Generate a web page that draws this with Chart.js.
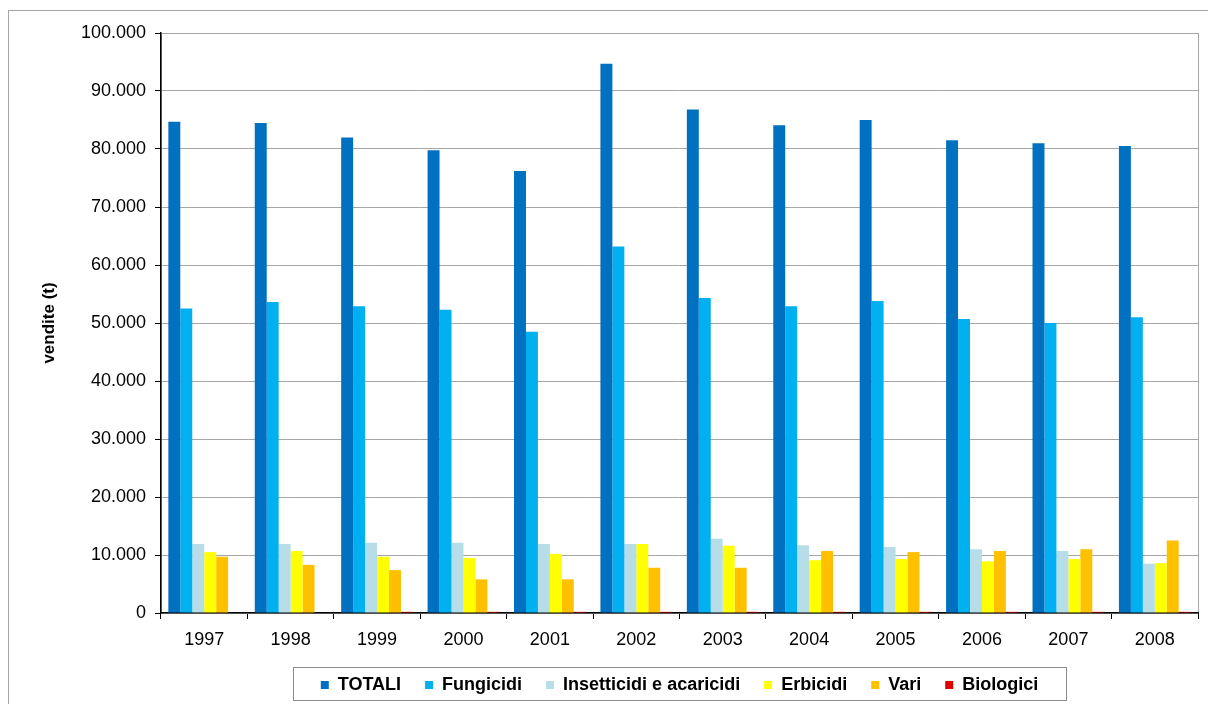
<!DOCTYPE html>
<html><head><meta charset="utf-8">
<script src="https://cdn.jsdelivr.net/npm/chart.js@4/dist/chart.umd.min.js"></script>
<style>html,body{margin:0;padding:0;background:#fff}#wrap{width:1208px;height:704px}</style>
</head><body><div id="wrap"><canvas id="c" width="1208" height="704"></canvas></div>
<script>
const years = ['1997','1998','1999','2000','2001','2002','2003','2004','2005','2006','2007','2008'];
const totali = [84700,84500,82000,79800,76200,94700,86800,84100,85000,81500,81000,80500];
const fungicidi = [52500,53600,52900,52300,48500,63200,54300,52900,53800,50700,50000,51000];
const insetticidi = [11900,11900,12100,12100,11900,11900,12800,11700,11400,11000,10700,8500];
const erbicidi = [10500,10700,9700,9500,10200,11900,11600,9100,9300,8900,9300,8600];
const vari = [9700,8300,7400,5800,5800,7800,7800,10700,10500,10700,11000,12500];
const biologici = [0,0,200,200,200,200,200,200,200,200,200,200];
const yTicks = [0,10000,20000,30000,40000,50000,60000,70000,80000,90000,100000];

const fmt = v => v === 0 ? '0' : (v/1000).toFixed(0) + '.000';
const F = "'Liberation Sans', Arial, sans-serif";

const frame = {
  id:'frame',
  afterLayout(ch){
    const l = ch.legend;
    if (l) { l.left = ch.chartArea.left; l.right = ch.chartArea.right; }
  },
  beforeDraw(ch){
    const c = ch.ctx; c.save();
    c.strokeStyle='#a6a6a6'; c.lineWidth=1;
    c.strokeRect(8.5,10.5,1210,700);
    const a = ch.chartArea;
    c.strokeRect(a.left+0.5,a.top+0.5,a.right-a.left,a.bottom-a.top);
    c.restore();
  },
  afterDraw(ch){
    const c = ch.ctx; c.save();
    c.strokeStyle='#8c8c8c'; c.lineWidth=1;
    c.strokeRect(293.5, 667.5, 773, 33);
    c.restore();
  }
};

new Chart(document.getElementById('c'), {
  type:'bar',
  data:{
    labels: years,
    datasets:[
      {label:'TOTALI', data:totali, backgroundColor:'#0070C0'},
      {label:'Fungicidi', data:fungicidi, backgroundColor:'#00B0F0'},
      {label:'Insetticidi e acaricidi', data:insetticidi, backgroundColor:'#B7DDE8'},
      {label:'Erbicidi', data:erbicidi, backgroundColor:'#FFFF00'},
      {label:'Vari', data:vari, backgroundColor:'#FFC000'},
      {label:'Biologici', data:biologici, backgroundColor:'#E00000'}
    ]
  },
  options:{
    responsive:false, animation:false,
    layout:{padding:{left:39,right:10,top:33,bottom:0}},
    datasets:{bar:{categoryPercentage:0.83, barPercentage:1.0}},
    plugins:{
      legend:{position:'bottom', labels:{boxWidth:8, boxHeight:8, color:'#000', padding:24, font:{family:F, size:18, weight:'bold'}}},
      tooltip:{enabled:false}
    },
    scales:{
      x:{
        afterFit(s){ s.height = 39; },
        grid:{drawOnChartArea:false, drawTicks:true, tickLength:6, tickColor:'#000', offset:true},
        border:{color:'#000', width:1.5},
        ticks:{color:'#000', font:{family:F, size:18}, padding:10}
      },
      y:{
        min:0, max:100000,
        afterBuildTicks(s){ s.ticks = yTicks.map(v=>({value:v})); },
        afterFit(s){ s.width = 122; },
        grid:{color:'#a6a6a6', tickColor:'#000', tickLength:6, lineWidth:1},
        border:{color:'#000', width:1.5},
        ticks:{color:'#000', font:{family:F, size:18}, padding:9, callback:v=>fmt(v)},
        title:{display:true, text:'vendite (t)', color:'#000', font:{family:F, size:17, weight:'bold'}, padding:{top:0,bottom:10}}
      }
    }
  },
  plugins:[frame]
});
</script></body></html>
